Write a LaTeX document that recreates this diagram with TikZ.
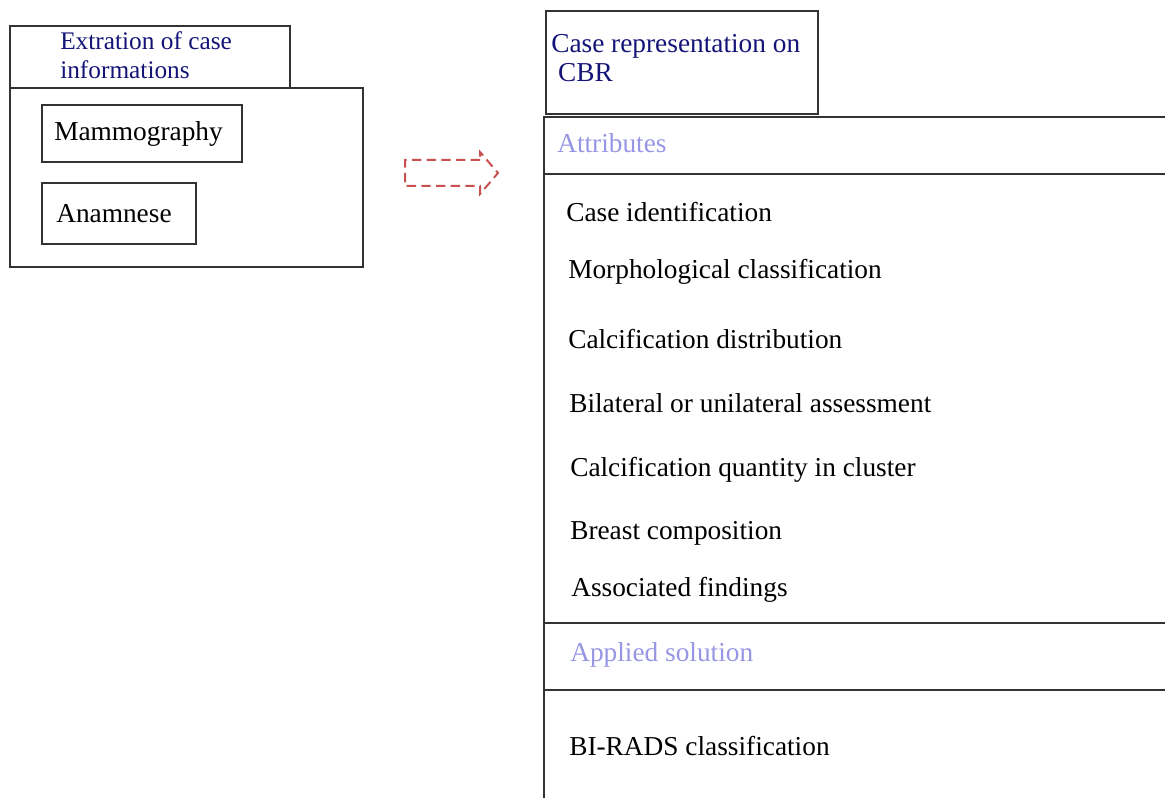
\documentclass[tikz,border=0pt]{standalone}
\usepackage{fontspec}
\setmainfont{Liberation Serif}
\usepackage{tikz}
\usetikzlibrary{positioning}
\definecolor{navytext}{RGB}{20, 20, 120}
\definecolor{paleblue}{RGB}{150, 150, 228}
\definecolor{dashred}{RGB}{200, 80, 80}

\tikzset{
    frame/.style   = {draw=black!80, line width=1.3pt},
    title/.style   = {color=navytext, anchor=west, align=left, font=\fontsize{19}{21.75}\selectfont, inner sep=0pt},
    section/.style = {color=paleblue, anchor=west, font=\fontsize{20.5}{24}\selectfont, inner sep=0pt},
    attr/.style    = {color=black, anchor=west, font=\fontsize{20.5}{24}\selectfont, inner sep=0pt}
}

\begin{document}
\begin{tikzpicture}[x=0.75pt, y=-0.75pt]
        \useasboundingbox (0,0) rectangle (1165,798);
        % extraction side
        \draw[frame] ( 10, 26) rectangle (290, 88);
        \draw[frame] ( 10, 88) rectangle (363,267);
        \node[title]  (extract) at ( 60, 55) {Extration of case\\informations};
        \draw[frame] ( 42,105) rectangle (242,162);
        \node[attr]   (mammo)   at ( 54,134) {Mammography};
        \draw[frame] ( 42,183) rectangle (196,244);
        \node[attr]   (anam)    at ( 56,214) {Anamnese};
        % dashed block arrow
        \draw[dashred, line width=1.5pt, dash pattern=on 7pt off 4pt]
             (480,160) -- (405,160) -- (405,186) -- (480,186) -- (480,194) -- (498,173) -- (480,152) -- cycle;
        % case representation side
        \draw[frame] (546, 11) rectangle (818,114);
        \node[title, font=\fontsize{20.5}{21.75}\selectfont] (cbr) at (551, 58) {Case representation on\\\ CBR};
        \draw[frame] (1170,117) -- (544,117) -- (544,805);
        \draw[frame] (544,174) -- (1170,174);
        \draw[frame] (544,623) -- (1170,623);
        \draw[frame] (544,690) -- (1170,690);
        \node[section] (attrs)  at (557,143) {Attributes};
        \node[attr]   (caseid)  at (566,212) {Case identification};
        \node[attr]   (morph)   at (568,272) {Morphological classification};
        \node[attr]   (distrib) at (568,339) {Calcification distribution};
        \node[attr]   (bilat)   at (569,403) {Bilateral or unilateral assessment};
        \node[attr]   (quant)   at (570,470) {Calcification quantity in cluster};
        \node[attr]   (breast)  at (570,533) {Breast composition};
        \node[attr]   (assoc)   at (571,590) {Associated findings};
        \node[section] (applied) at (570,655) {Applied solution};
        \node[attr]   (birads)  at (569,746) {BI-RADS classification};
\end{tikzpicture}
\end{document}
